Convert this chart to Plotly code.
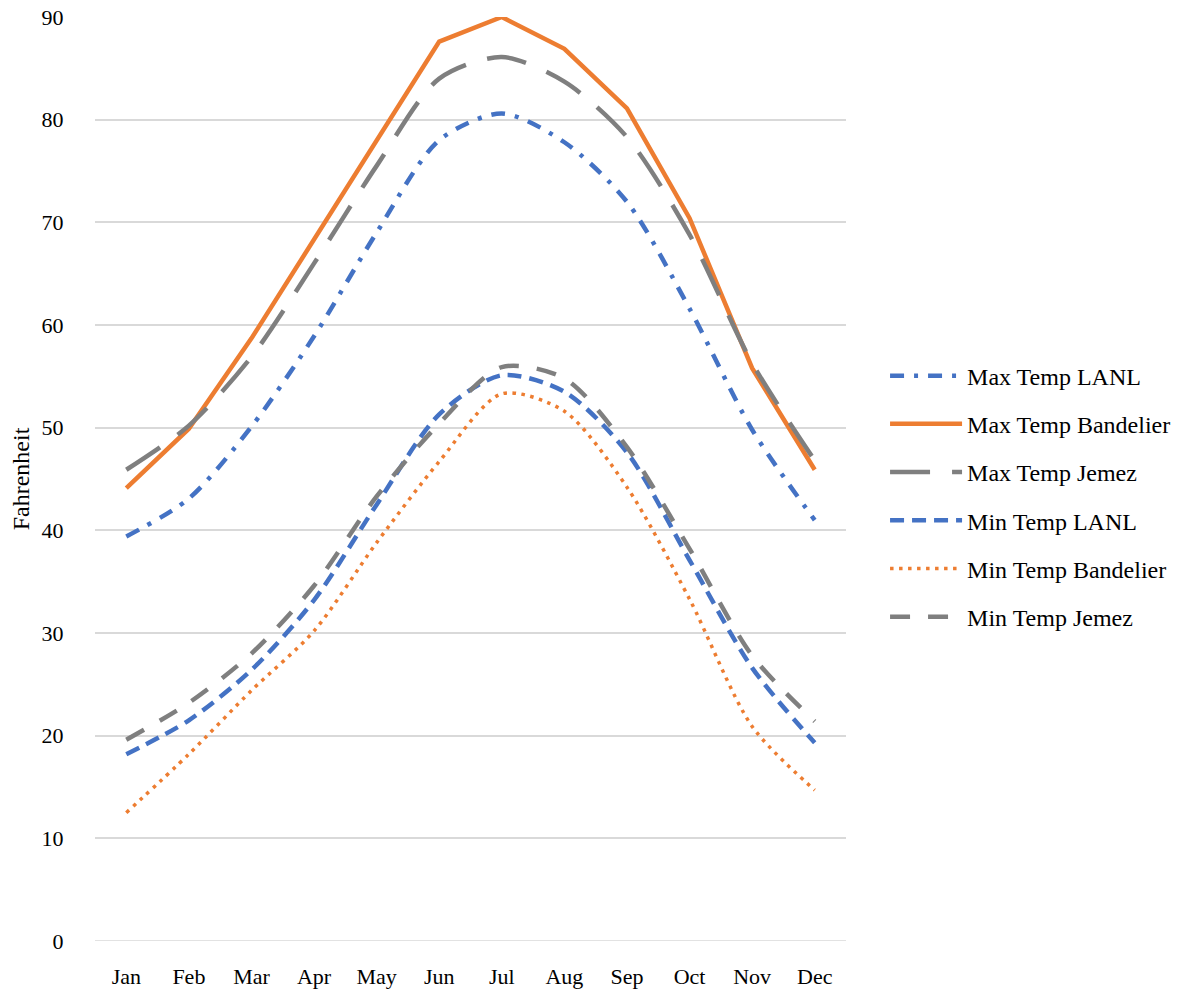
import plotly.graph_objects as go

months = ["Jan", "Feb", "Mar", "Apr", "May", "Jun", "Jul", "Aug", "Sep", "Oct", "Nov", "Dec"]

max_lanl = [39.4, 43.1, 50.1, 58.9, 69.0, 78.0, 80.6, 77.8, 72.0, 61.6, 49.8, 41.0]
max_bandelier = [44.1, 49.9, 58.7, 68.4, 78.0, 87.6, 90.0, 86.9, 81.1, 70.4, 55.8, 45.9]
max_jemez = [45.9, 50.2, 56.9, 66.0, 75.5, 84.0, 86.1, 83.7, 78.3, 68.8, 56.3, 46.8]
min_lanl = [18.2, 21.5, 26.4, 33.2, 42.5, 51.3, 55.1, 53.5, 47.6, 37.1, 26.6, 19.3]
min_bandelier = [12.5, 18.2, 24.4, 30.2, 38.8, 46.7, 53.3, 51.6, 44.2, 33.3, 20.9, 14.7]
min_jemez = [19.6, 23.2, 28.0, 34.6, 43.3, 50.4, 55.9, 54.8, 48.1, 38.2, 27.8, 21.4]

BLUE = "#4472C4"
ORANGE = "#ED7D31"
GRAY = "#7F7F7F"
FONT = "Liberation Serif"

series = [
    ("Max Temp LANL", max_lanl, BLUE, 4.5, "14px,10px,4px,10px", "spline"),
    ("Max Temp Bandelier", max_bandelier, ORANGE, 4.5, "solid", "linear"),
    ("Max Temp Jemez", max_jemez, GRAY, 4.5, "40px,22px", "spline"),
    ("Min Temp LANL", min_lanl, BLUE, 4.5, "14px,8px", "spline"),
    ("Min Temp Bandelier", min_bandelier, ORANGE, 3.5, "3.5px,5.5px", "spline"),
    ("Min Temp Jemez", min_jemez, GRAY, 4.5, "20px,18px", "spline"),
]

fig = go.Figure()
for i, (name, vals, color, width, dash, shape) in enumerate(series):
    line = dict(color=color, width=width, dash=dash, shape=shape)
    if shape == "spline":
        line["smoothing"] = 0.8
    fig.add_trace(go.Scatter(
        x=months, y=vals, name=name, mode="lines", line=line,
        legendgroup=f"g{i}",
    ))

fig.update_layout(
    width=1196, height=995,
    margin=dict(l=95, r=350, t=17, b=54, autoexpand=False),
    plot_bgcolor="white", paper_bgcolor="white",
    font=dict(family=FONT, size=22, color="#000000"),
    showlegend=True,
    legend=dict(
        x=1.052, xanchor="left", y=0.481, yanchor="middle",
        font=dict(family=FONT, size=24, color="#000000"),
        itemwidth=72, tracegroupgap=14,
        bgcolor="rgba(0,0,0,0)",
    ),
    xaxis=dict(
        type="category", range=[-0.5, 11.5], automargin=False,
        showgrid=False, zeroline=False, showline=False,
        ticks="outside", ticklen=16, tickcolor="rgba(0,0,0,0)",
        tickfont=dict(family=FONT, size=22),
    ),
    yaxis=dict(
        range=[0, 90], dtick=10, automargin=False,
        showgrid=True, gridcolor="#D9D9D9", gridwidth=1.5,
        zeroline=False, showline=False,
        ticks="outside", ticklen=26, tickcolor="rgba(0,0,0,0)",
        tickfont=dict(family=FONT, size=22),
        title=dict(text="Fahrenheit", font=dict(family=FONT, size=24), standoff=5),
    ),
)
fig.add_shape(type="line", xref="paper", yref="y", x0=0, x1=1, y0=0, y1=0,
              line=dict(color="#D9D9D9", width=1.5), layer="below")

fig.write_html("out.html")
